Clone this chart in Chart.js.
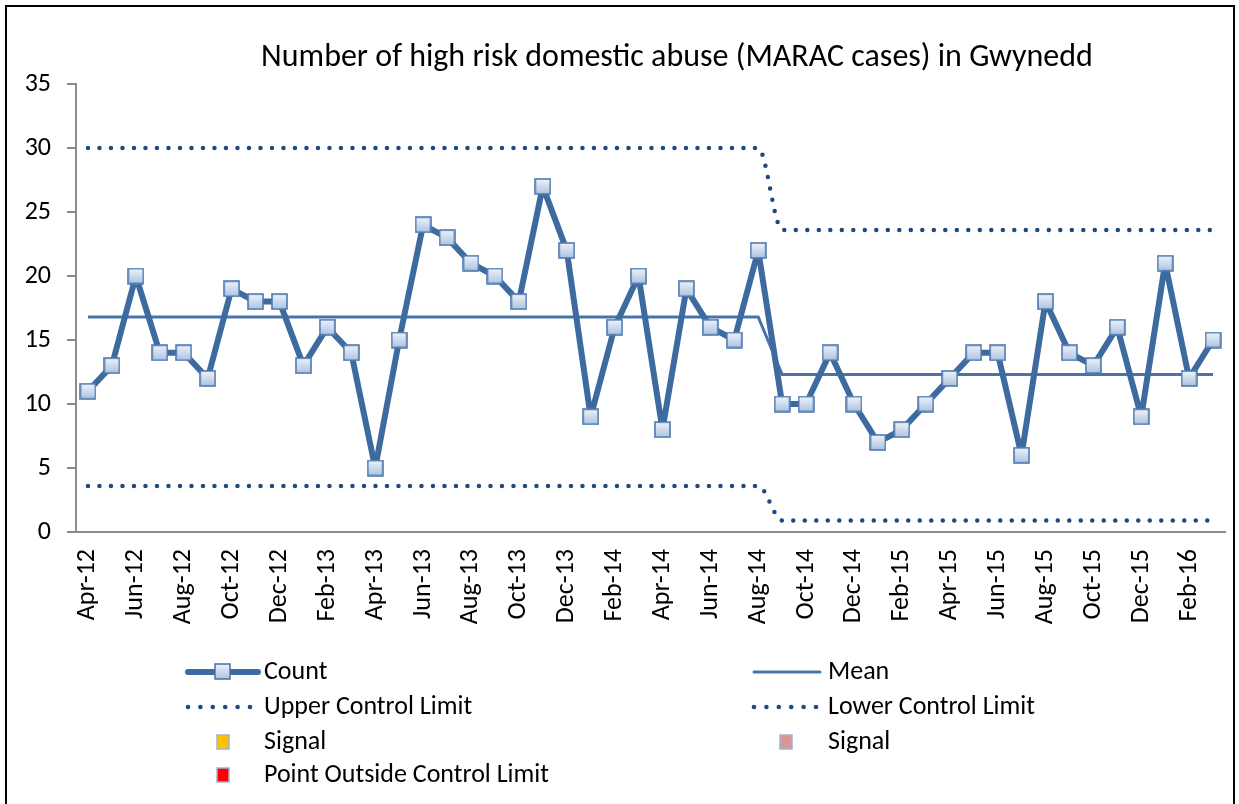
<!DOCTYPE html>
<html lang="en">
  <head>
    <meta charset="UTF-8" />
    <title>MARAC cases in Gwynedd</title>
    <script src="https://cdn.jsdelivr.net/npm/chart.js@4.4.1/dist/chart.umd.min.js"></script>
    <style>
      html, body { margin: 0; padding: 0; background: #fff; }
      #wrap { width: 1239px; height: 804px; position: relative; }
    </style>
  </head>
  <body>
    <div id="wrap"><canvas id="chart"></canvas></div>

    <script>
      // data
      const months = [
        'Apr-12', 'May-12', 'Jun-12', 'Jul-12', 'Aug-12', 'Sep-12', 'Oct-12', 'Nov-12', 'Dec-12',
        'Jan-13', 'Feb-13', 'Mar-13', 'Apr-13', 'May-13', 'Jun-13', 'Jul-13', 'Aug-13', 'Sep-13', 'Oct-13', 'Nov-13', 'Dec-13',
        'Jan-14', 'Feb-14', 'Mar-14', 'Apr-14', 'May-14', 'Jun-14', 'Jul-14', 'Aug-14', 'Sep-14', 'Oct-14', 'Nov-14', 'Dec-14',
        'Jan-15', 'Feb-15', 'Mar-15', 'Apr-15', 'May-15', 'Jun-15', 'Jul-15', 'Aug-15', 'Sep-15', 'Oct-15', 'Nov-15', 'Dec-15',
        'Jan-16', 'Feb-16', 'Mar-16',
      ];
      const countValues = [
        11, 13, 20, 14, 14, 12, 19, 18, 18,
        13, 16, 14, 5, 15, 24, 23, 21, 20, 18, 27, 22,
        9, 16, 20, 8, 19, 16, 15, 22, 10, 10, 14, 10,
        7, 8, 10, 12, 14, 14, 6, 18, 14, 13, 16, 9,
        21, 12, 15,
      ];
      const meanValues = [
        16.8, 16.8, 16.8, 16.8, 16.8, 16.8, 16.8, 16.8, 16.8,
        16.8, 16.8, 16.8, 16.8, 16.8, 16.8, 16.8, 16.8, 16.8, 16.8, 16.8, 16.8,
        16.8, 16.8, 16.8, 16.8, 16.8, 16.8, 16.8, 16.8, 12.3, 12.3, 12.3, 12.3,
        12.3, 12.3, 12.3, 12.3, 12.3, 12.3, 12.3, 12.3, 12.3, 12.3, 12.3, 12.3,
        12.3, 12.3, 12.3,
      ];
      const uclValues = [
        30, 30, 30, 30, 30, 30, 30, 30, 30,
        30, 30, 30, 30, 30, 30, 30, 30, 30, 30, 30, 30,
        30, 30, 30, 30, 30, 30, 30, 30, 23.6, 23.6, 23.6, 23.6,
        23.6, 23.6, 23.6, 23.6, 23.6, 23.6, 23.6, 23.6, 23.6, 23.6, 23.6, 23.6,
        23.6, 23.6, 23.6,
      ];
      const lclValues = [
        3.6, 3.6, 3.6, 3.6, 3.6, 3.6, 3.6, 3.6, 3.6,
        3.6, 3.6, 3.6, 3.6, 3.6, 3.6, 3.6, 3.6, 3.6, 3.6, 3.6, 3.6,
        3.6, 3.6, 3.6, 3.6, 3.6, 3.6, 3.6, 3.6, 0.9, 0.9, 0.9, 0.9,
        0.9, 0.9, 0.9, 0.9, 0.9, 0.9, 0.9, 0.9, 0.9, 0.9, 0.9, 0.9,
        0.9, 0.9, 0.9,
      ];
      const yTicks = [0, 5, 10, 15, 20, 25, 30, 35];

      const FONT = 'Carlito, Calibri, Lato, "Open Sans", sans-serif';
      const COUNT_COLOR = '#3D6A9F';
      const MEAN_COLOR = '#4874AA';
      const LIMIT_COLOR = '#1F4A7E';

      // square marker with a light blue gradient, like the Excel one
      function makeMarker(size) {
        const c = document.createElement('canvas');
        c.width = size;
        c.height = size;
        const g = c.getContext('2d');
        const grad = g.createLinearGradient(0, 0, 0, size);
        grad.addColorStop(0, '#F2F6FB');
        grad.addColorStop(1, '#A9C0E0');
        g.fillStyle = grad;
        g.fillRect(1, 1, size - 2, size - 2);
        g.strokeStyle = '#4D78AE';
        g.lineWidth = 1.6;
        g.strokeRect(1, 1, size - 2, size - 2);
        return c;
      }
      const marker = makeMarker(17);

      const frameAndText = {
        id: 'frameAndText',
        beforeDraw(chart) {
          const ctx = chart.ctx;
          ctx.save();
          ctx.fillStyle = '#fff';
          ctx.fillRect(0, 0, chart.width, chart.height);
          ctx.strokeStyle = '#000';
          ctx.lineWidth = 2;
          ctx.strokeRect(6, 6, 1228, 820);
          ctx.restore();
        },
        afterDraw(chart) {
          const ctx = chart.ctx;
          ctx.save();
          ctx.fillStyle = '#000';
          ctx.textBaseline = 'middle';
          ctx.textAlign = 'center';
          ctx.font = '32px ' + FONT;
          ctx.fillText('Number of high risk domestic abuse (MARAC cases) in Gwynedd', 677, 58);

          ctx.textAlign = 'left';
          ctx.font = '26px ' + FONT;

          // Count
          ctx.strokeStyle = COUNT_COLOR;
          ctx.lineWidth = 6;
          ctx.lineCap = 'round';
          ctx.beginPath(); ctx.moveTo(188, 672); ctx.lineTo(258, 672); ctx.stroke();
          ctx.drawImage(marker, 214, 663);
          ctx.fillText('Count', 264, 672);

          // Mean
          ctx.strokeStyle = MEAN_COLOR;
          ctx.lineWidth = 3;
          ctx.beginPath(); ctx.moveTo(754, 672); ctx.lineTo(820, 672); ctx.stroke();
          ctx.fillText('Mean', 828, 672);

          // control limits
          ctx.fillStyle = LIMIT_COLOR;
          [188, 754].forEach(function (x0) {
            for (let i = 0; i < 6; i++) {
              ctx.beginPath();
              ctx.arc(x0 + i * 12.4, 707, 2.3, 0, Math.PI * 2);
              ctx.fill();
            }
          });
          ctx.fillStyle = '#000';
          ctx.fillText('Upper Control Limit', 264, 707);
          ctx.fillText('Lower Control Limit', 828, 707);

          // signal squares
          function sq(x, y, fill) {
            ctx.fillStyle = fill;
            ctx.fillRect(x - 6, y - 7, 12, 14);
            ctx.strokeStyle = '#9FB4D3';
            ctx.lineWidth = 1.5;
            ctx.strokeRect(x - 6, y - 7, 12, 14);
          }
          sq(223, 742, '#FFC000');
          sq(786, 742, '#D99694');
          sq(223, 775, '#FF0000');
          ctx.fillStyle = '#000';
          ctx.fillText('Signal', 264, 742);
          ctx.fillText('Signal', 828, 742);
          ctx.fillText('Point Outside Control Limit', 264, 775);
          ctx.restore();
        },
      };

      const ctx = document.getElementById('chart').getContext('2d');
      new Chart(ctx, {
        type: 'line',
        data: {
          labels: months,
          datasets: [
            {
              label: 'Upper Control Limit',
              data: uclValues,
              borderColor: LIMIT_COLOR,
              borderWidth: 4.5,
              borderDash: [0, 11.5],
              borderCapStyle: 'round',
              cubicInterpolationMode: 'monotone',
              pointRadius: 0,
              order: 3,
            },
            {
              label: 'Lower Control Limit',
              data: lclValues,
              borderColor: LIMIT_COLOR,
              borderWidth: 4.5,
              borderDash: [0, 11.5],
              borderCapStyle: 'round',
              cubicInterpolationMode: 'monotone',
              pointRadius: 0,
              order: 3,
            },
            {
              label: 'Mean',
              data: meanValues,
              borderColor: MEAN_COLOR,
              borderWidth: 3,
              pointRadius: 0,
              tension: 0,
              order: 2,
            },
            {
              label: 'Count',
              data: countValues,
              borderColor: COUNT_COLOR,
              borderWidth: 6,
              borderJoinStyle: 'round',
              pointStyle: marker,
              pointRadius: 8,
              tension: 0,
              order: 1,
            },
          ],
        },
        options: {
          responsive: true,
          maintainAspectRatio: false,
          animation: false,
          layout: { padding: { left: 0, top: 84, right: 13, bottom: 0 } },
          plugins: {
            legend: { display: false },
            title: { display: false },
            tooltip: { enabled: false },
          },
          scales: {
            x: {
              offset: true,
              grid: { display: true, drawOnChartArea: false, drawTicks: false },
              border: { color: '#8C8C8C', width: 2 },
              ticks: {
                autoSkip: false,
                minRotation: 90,
                maxRotation: 90,
                padding: 17,
                color: '#000',
                font: { family: FONT, size: 26 },
                callback: function (value, index) {
                  return index % 2 === 0 ? months[index] : '';
                },
              },
              afterFit: function (scale) {
                scale.height = 804 - 532;
                scale.paddingLeft = 0;
                scale.paddingRight = 0;
              },
            },
            y: {
              min: 0,
              max: 35,
              afterBuildTicks: function (scale) {
                scale.ticks = yTicks.map(function (v) { return { value: v }; });
              },
              grid: { drawOnChartArea: false, drawTicks: true, tickLength: 9, color: '#8C8C8C', lineWidth: 2 },
              border: { color: '#8C8C8C', width: 2 },
              ticks: {
                padding: 16,
                color: '#000',
                font: { family: FONT, size: 26 },
              },
              afterFit: function (scale) {
                scale.width = 76;
                scale.paddingTop = 0;
                scale.paddingBottom = 0;
              },
            },
          },
        },
        plugins: [frameAndText],
      });
    </script>
  </body>
</html>
